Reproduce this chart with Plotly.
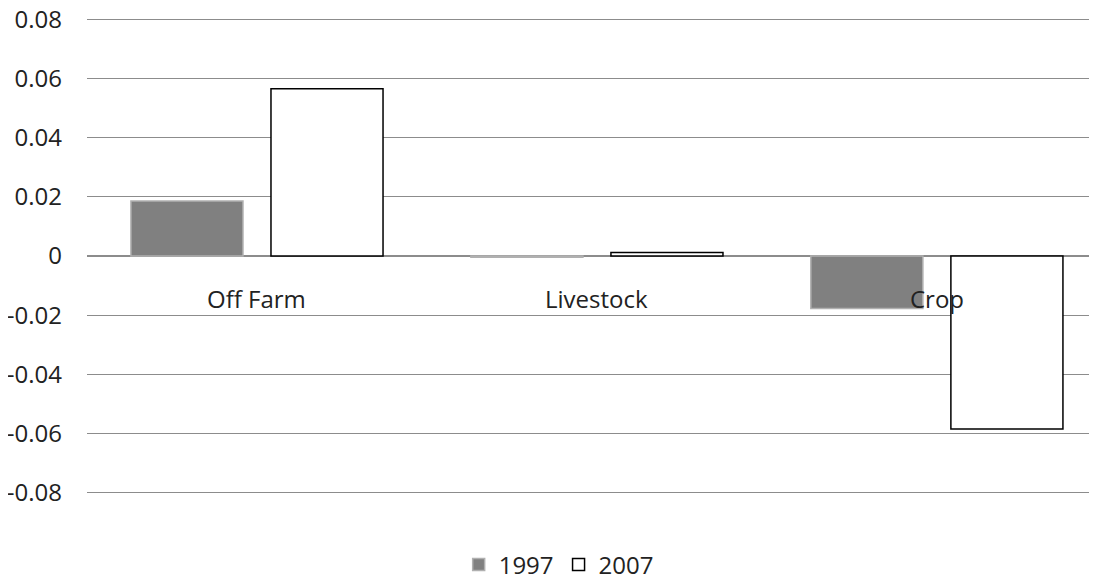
import plotly.graph_objects as go

categories = ["Off Farm", "Livestock", "Crop"]
series_names = ["1997", "2007"]
values_1997 = [0.0186, -0.0004, -0.0177]
values_2007 = [0.0565, 0.0012, -0.0584]
y_ticks = [-0.08, -0.06, -0.04, -0.02, 0, 0.02, 0.04, 0.06, 0.08]
y_tick_labels = ["-0.08", "-0.06", "-0.04", "-0.02", "0", "0.02", "0.04", "0.06", "0.08"]

FONT = "Open Sans, Liberation Sans, sans-serif"
FS = 24

fig = go.Figure()
fig.add_trace(go.Bar(
    x=categories, y=values_1997, name=series_names[0],
    marker=dict(color="#808080", line=dict(color="#b0b0b0", width=1.5)),
))
fig.add_trace(go.Bar(
    x=categories, y=values_2007, name=series_names[1],
    marker=dict(color="#ffffff", line=dict(color="#000000", width=1.5)),
))

for c in categories:
    fig.add_annotation(x=c, y=0, xref="x", yref="y", text=c, showarrow=False,
                       yshift=-42, font=dict(family=FONT, size=FS, color="#222222"))

fig.update_layout(
    width=1089, height=568,
    margin=dict(l=79, r=0, t=10, b=82, autoexpand=False),
    paper_bgcolor="white", plot_bgcolor="white",
    barmode="group", bargap=0.176, bargroupgap=0.2,
    font=dict(family=FONT, size=FS, color="#222222"),
    showlegend=True,
    legend=dict(orientation="h", x=0.467, xanchor="center", y=-0.149, yanchor="middle",
                font=dict(family=FONT, size=FS, color="#222222"),
                traceorder="normal"),
    xaxis=dict(range=[-0.5, 2.471], showticklabels=False, showgrid=False,
               zeroline=False, showline=False),
    yaxis=dict(range=[-0.0804, 0.0804], tickvals=y_ticks, ticktext=y_tick_labels,
               showgrid=True, gridcolor="#8c8c8c", gridwidth=1,
               zeroline=True, zerolinecolor="#8c8c8c", zerolinewidth=2,
               ticks="", ticklabelstandoff=24, automargin=False,
               ticklabeloverflow="allow",
               tickfont=dict(family=FONT, size=FS, color="#222222")),
)

fig.write_html("out.html")
